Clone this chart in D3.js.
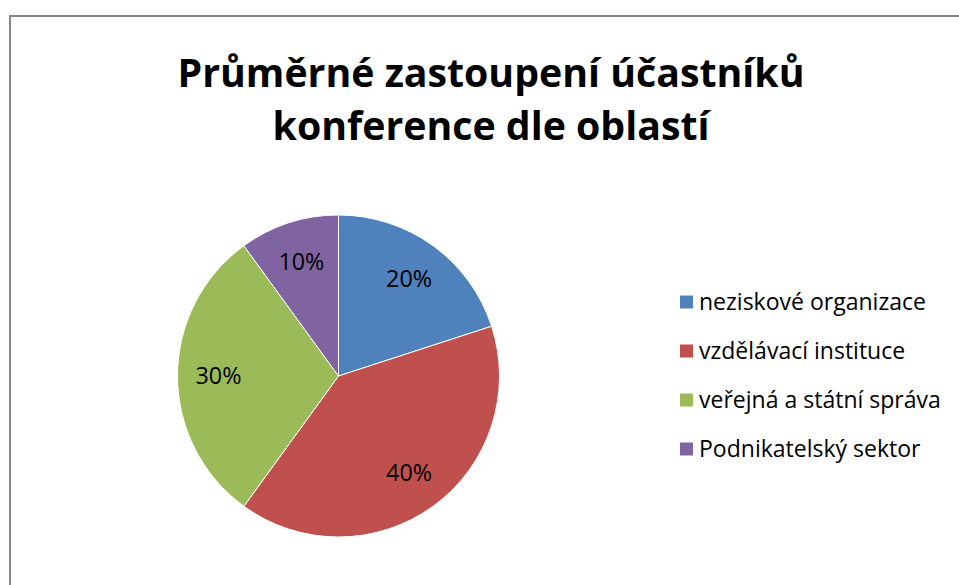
<!DOCTYPE html>
<html>
<head>
<meta charset="utf-8">
<script src="https://cdn.jsdelivr.net/npm/d3@7"></script>
<style>
  body { margin: 0; background: #fff; }
  svg { display: block; }
</style>
</head>
<body>
<svg width="959" height="585"></svg>
<script>
// chart data
const categories = ['neziskové organizace', 'vzdělávací instituce', 'veřejná a státní správa', 'Podnikatelský sektor']
const values = [20, 40, 30, 10]
const colors = ['#4F81BD', '#C0504D', '#9BBB59', '#8064A2']
const titleLines = ['Průměrné zastoupení účastníků', 'konference dle oblastí']

const font = "'Open Sans', sans-serif"
const svg = d3.select('svg')

// pick one font size for a group of texts so that its first text is about as wide as in the original
function fitWidth(sel, target) {
  const first = sel.node()
  const size = +d3.select(first).attr('font-size')
  const w = first.getComputedTextLength()
  sel.attr('font-size', (size * target / w).toFixed(2))
}

// outer frame
svg.append('rect')
  .attr('x', 10).attr('y', 16)
  .attr('width', 1000).attr('height', 700)
  .attr('fill', '#fff')
  .attr('stroke', '#888').attr('stroke-width', 2)

// title
svg.append('g')
  .selectAll('text')
  .data(titleLines)
  .enter()
  .append('text')
  .attr('x', 491)
  .attr('y', (d, i) => 87 + i * 53)
  .attr('text-anchor', 'middle')
  .attr('font-family', font)
  .attr('font-weight', 'bold')
  .attr('font-size', 36)
  .attr('fill', '#000')
  .text(d => d)
  .call(fitWidth, 627)

const data = categories.map((c, i) => ({ name: c, value: values[i], color: colors[i] }))

const radius = 161
const pie = d3.pie().sort(null).value(d => d.value)
const arc = d3.arc().innerRadius(0).outerRadius(radius)
const labelArc = d3.arc().innerRadius(120).outerRadius(120)

const chart = svg.append('g').attr('transform', 'translate(338.5, 376)')

chart.selectAll('path')
  .data(pie(data))
  .enter()
  .append('path')
  .attr('d', arc)
  .attr('fill', d => d.data.color)
  .attr('stroke', '#fff')
  .attr('stroke-width', 1)

chart.selectAll('text')
  .data(pie(data))
  .enter()
  .append('text')
  .attr('transform', d => `translate(${labelArc.centroid(d)})`)
  .attr('text-anchor', 'middle')
  .attr('dy', '0.35em')
  .attr('font-family', font)
  .attr('font-size', 20)
  .attr('fill', '#000')
  .text(d => d.data.value + '%')
  .call(fitWidth, 46)

// legend
const legend = svg.append('g').attr('transform', 'translate(680, 302)')
const rows = legend.selectAll('g')
  .data(data)
  .enter()
  .append('g')
  .attr('transform', (d, i) => `translate(0, ${i * 49})`)

rows.append('rect')
  .attr('x', 0).attr('y', -6.5)
  .attr('width', 13).attr('height', 13)
  .attr('fill', d => d.color)

rows.append('text')
  .attr('x', 19)
  .attr('dy', '0.35em')
  .attr('font-family', font)
  .attr('font-size', 20)
  .attr('fill', '#000')
  .text(d => d.name)
  .call(fitWidth, 227)
</script>
</body>
</html>
